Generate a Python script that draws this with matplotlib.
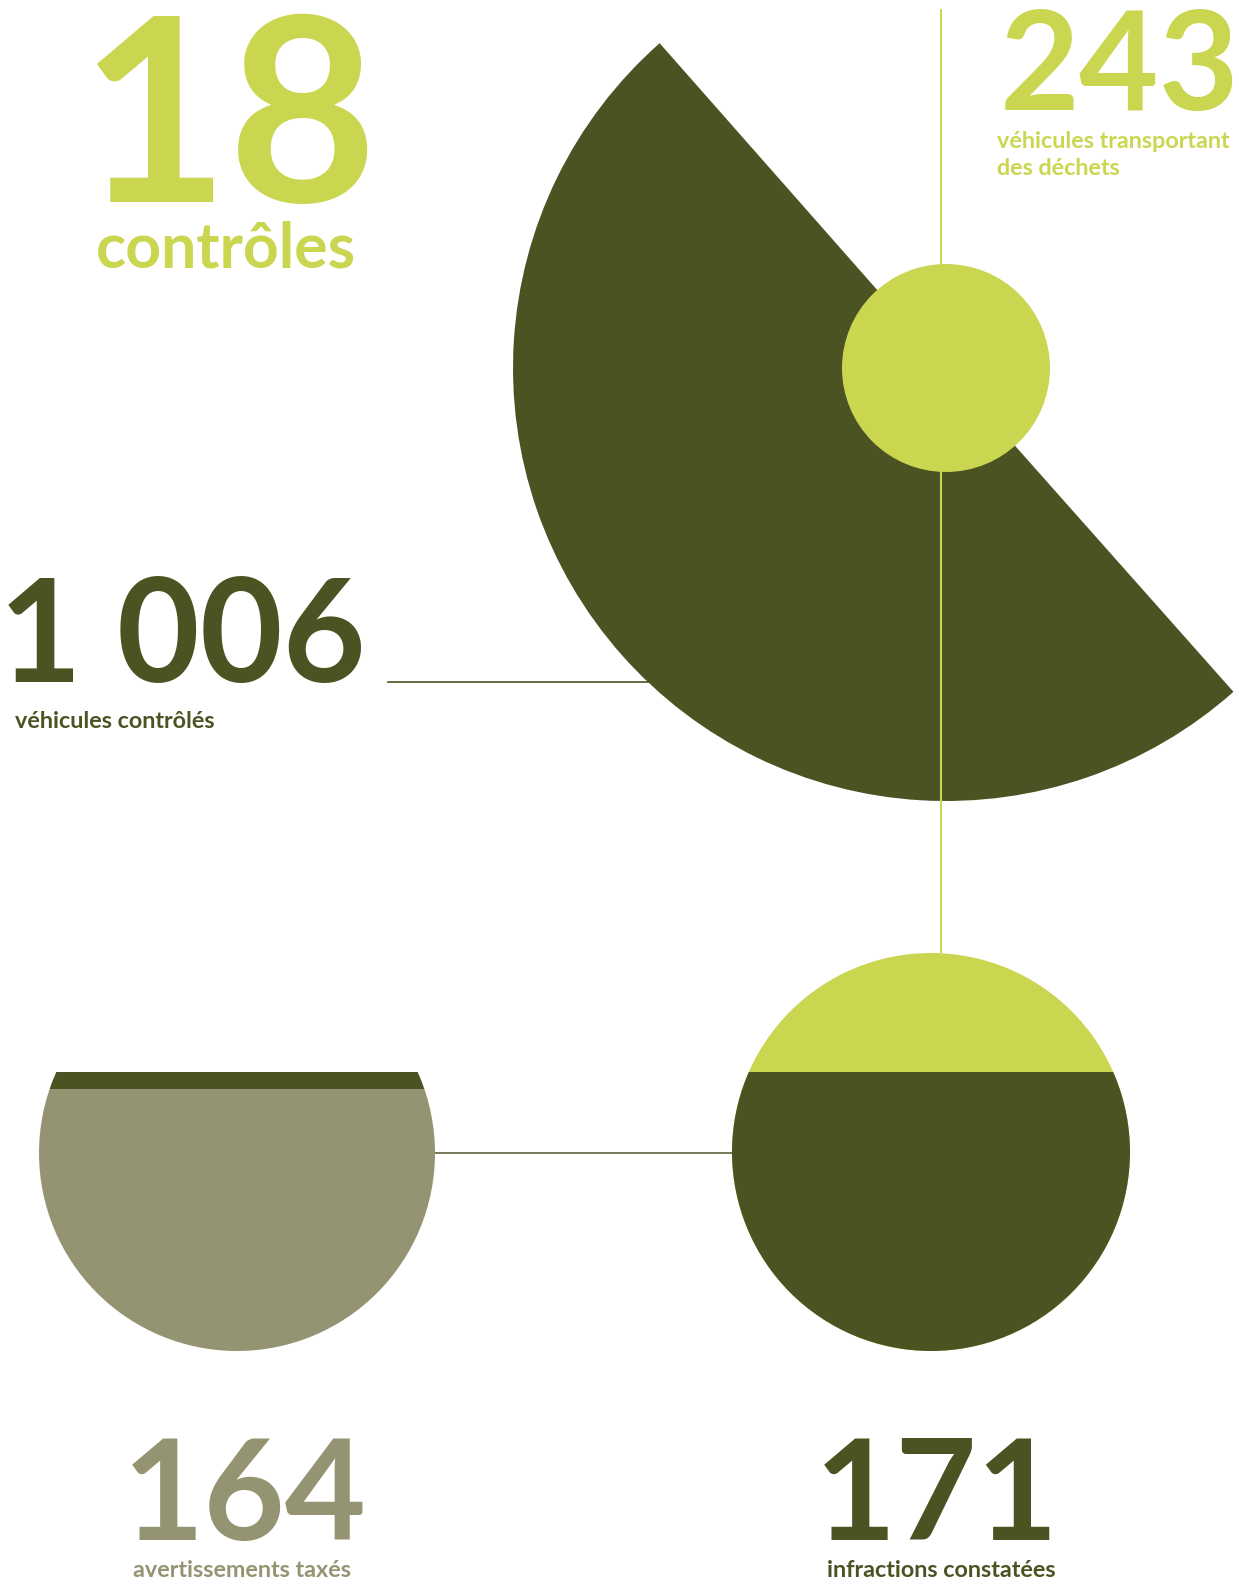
import matplotlib
matplotlib.use("Agg")
import matplotlib.pyplot as plt
from matplotlib.patches import Wedge, Circle, Rectangle

# ---- data ----
numbers = ["18", "243", "1 006", "164", "171"]
labels = ["contrôles", "véhicules transportant\ndes déchets", "véhicules contrôlés",
          "avertissements taxés", "infractions constatées"]

LIGHT = "#CAD650"
DARK = "#4C5322"
GREY = "#959472"

W, H = 1239, 1584
fig = plt.figure(figsize=(W / 100, H / 100), dpi=100)
ax = fig.add_axes([0, 0, 1, 1])
ax.set_xlim(0, W)
ax.set_ylim(0, H)
ax.axis("off")

def Y(py):
    return H - py

FONT = ["Lato", "DejaVu Sans"]

# ---- connecting lines ----
ax.plot([941, 941], [Y(10), Y(952)], color=LIGHT, lw=1.5, zorder=3)
ax.plot([388, 700], [Y(682), Y(682)], color=DARK, lw=1.2, zorder=1)
ax.plot([400, 760], [Y(1153), Y(1153)], color="#6E6E4A", lw=1.3, zorder=1)

# ---- big wedge + inner circle ----
cx, cy, R = 946, 368, 433
ax.add_patch(Wedge((cx, Y(cy)), R, 131.4, 311.6, facecolor=DARK, edgecolor="none", zorder=2))
ax.add_patch(Circle((cx, Y(cy)), 104, facecolor=LIGHT, edgecolor="none", zorder=4))

# ---- bottom right circle ----
rc = Circle((931, Y(1152)), 199, facecolor=LIGHT, edgecolor="none", zorder=2)
ax.add_patch(rc)
rect = Rectangle((700, Y(1400)), 460, 1400 - 1072, facecolor=DARK, edgecolor="none", zorder=3)
ax.add_patch(rect)
rect.set_clip_path(rc)

# ---- bottom left circle ----
lc_clip = Circle((237, Y(1153)), 198, transform=ax.transData)
body = Rectangle((20, Y(1400)), 440, 1400 - 1089, facecolor=GREY, edgecolor="none", zorder=2)
band = Rectangle((20, Y(1089)), 440, 1089 - 1072, facecolor=DARK, edgecolor="none", zorder=2)
ax.add_patch(body)
ax.add_patch(band)
body.set_clip_path(lc_clip)
band.set_clip_path(lc_clip)

# ---- texts ----
def txt(x, y, s, size, color, ha="center"):
    ax.text(x, Y(y), s, fontsize=size, color=color, ha=ha, va="baseline",
            family=FONT, fontweight="bold", zorder=6)

SMALL = 16.8
txt(228, 202, numbers[0], 185, LIGHT)
txt(226, 268, labels[0], 45, LIGHT)
txt(1120, 110, numbers[1], 99, LIGHT)
l1, l2 = labels[1].split("\n")
txt(997, 148, l1, SMALL, LIGHT, ha="left")
txt(997, 175, l2, SMALL, LIGHT, ha="left")
txt(182, 682, numbers[2], 103, DARK)
txt(15, 728, labels[2], SMALL, DARK, ha="left")
txt(245, 1540, numbers[3], 101, GREY)
txt(242, 1577, labels[3], SMALL, GREY)
txt(937, 1540, numbers[4], 101, DARK)
txt(941, 1577, labels[4], SMALL, DARK)

fig.savefig("out.png", dpi=100, facecolor="white")
